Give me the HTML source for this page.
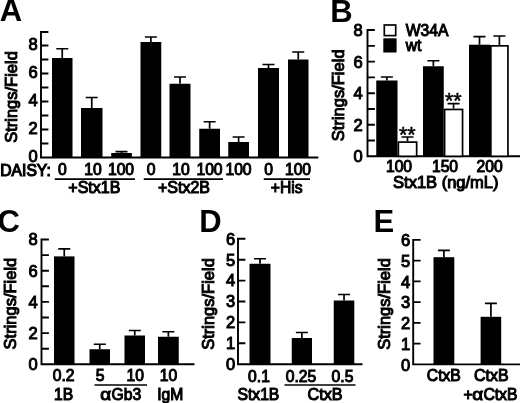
<!DOCTYPE html>
<html><head><meta charset="utf-8"><title>Figure</title>
<style>
html,body{margin:0;padding:0;background:#fff;}
svg{display:block;}
text{font-family:"Liberation Sans",sans-serif;fill:#000;}
.t{font-size:16.5px;stroke:#000;stroke-width:1.0px;}
.x{font-size:15.7px;}
.p{font-weight:bold;font-size:31px;}
.ax{stroke:#000;stroke-width:1.9;fill:none;}
.er{stroke:#000;stroke-width:1.7;fill:none;}
.b{fill:#000;}
.w{fill:#fff;stroke:#000;stroke-width:1.7;}
</style></head><body>
<svg width="520" height="403" viewBox="0 0 520 403">
<rect width="520" height="403" fill="#fff"/>
<text class="p" x="-0.3" y="21.3" text-anchor="start">A</text>
<path class="ax" d="M48.4,32 H41 V157.5 H318.3 M41,143.5 h7.4 M41,129.5 h7.4 M41,115.5 h7.4 M41,101.5 h7.4 M41,87.5 h7.4 M41,73.5 h7.4 M41,59.5 h7.4 M41,45.5 h7.4"/>
<text class="t" x="37.8" y="162.3" text-anchor="end">0</text>
<text class="t" x="37.8" y="134.3" text-anchor="end">2</text>
<text class="t" x="37.8" y="106.3" text-anchor="end">4</text>
<text class="t" x="37.8" y="78.3" text-anchor="end">6</text>
<text class="t" x="37.8" y="50.3" text-anchor="end">8</text>
<text class="t" transform="translate(16.9,97) rotate(-90)" text-anchor="middle">Strings/Field</text>
<path class="er" d="M62.25,58 V48.75 M56.25,48.75 h12"/>
<rect class="b" x="52" y="58" width="20.5" height="99.5"/>
<path class="er" d="M91.75,108 V97.5 M85.75,97.5 h12"/>
<rect class="b" x="81" y="108" width="21.5" height="49.5"/>
<path class="er" d="M121.5,153 V151.6 M115.5,151.6 h12"/>
<rect class="b" x="111.2" y="153" width="20.60000000000001" height="4.5"/>
<path class="er" d="M150.875,42 V37 M144.875,37 h12"/>
<rect class="b" x="140.5" y="42" width="20.75" height="115.5"/>
<path class="er" d="M180.0,83.75 V77 M174.0,77 h12"/>
<rect class="b" x="169.5" y="83.75" width="21.0" height="73.75"/>
<path class="er" d="M209.625,128.75 V121.75 M203.625,121.75 h12"/>
<rect class="b" x="199.25" y="128.75" width="20.75" height="28.75"/>
<path class="er" d="M238.625,142 V137 M232.625,137 h12"/>
<rect class="b" x="228.25" y="142" width="20.75" height="15.5"/>
<path class="er" d="M268.5,68 V64.5 M262.5,64.5 h12"/>
<rect class="b" x="258" y="68" width="21" height="89.5"/>
<path class="er" d="M298.25,59.5 V52 M292.25,52 h12"/>
<rect class="b" x="288" y="59.5" width="20.5" height="98.0"/>
<text class="t x" x="0.3" y="176" text-anchor="start" textLength="50.5" lengthAdjust="spacingAndGlyphs" style="font-size:16.3px;stroke-width:1.2px">DAISY:</text>
<text class="t x" x="62.3" y="175.2" text-anchor="middle">0</text>
<text class="t x" x="93" y="175.2" text-anchor="middle">10</text>
<text class="t x" x="121" y="175.2" text-anchor="middle">100</text>
<text class="t x" x="151" y="175.2" text-anchor="middle">0</text>
<text class="t x" x="181" y="175.2" text-anchor="middle">10</text>
<text class="t x" x="209.5" y="175.2" text-anchor="middle">100</text>
<text class="t x" x="238.5" y="175.2" text-anchor="middle">100</text>
<text class="t x" x="268.5" y="175.2" text-anchor="middle">0</text>
<text class="t x" x="298" y="175.2" text-anchor="middle">100</text>
<path class="ax" style="stroke-width:1.6" d="M54.8,179.1 H135 M143.75,179.1 H223 M263.75,179.1 H310"/>
<text class="t x" x="94.3" y="192.8" text-anchor="middle" textLength="52" lengthAdjust="spacingAndGlyphs">+Stx1B</text>
<text class="t x" x="184" y="192.8" text-anchor="middle" textLength="52" lengthAdjust="spacingAndGlyphs">+Stx2B</text>
<text class="t x" x="286.7" y="192.8" text-anchor="middle">+His</text>
<text class="p" x="330.3" y="21.8" text-anchor="start">B</text>
<path class="ax" d="M374.9,30 H367.5 V156.3 H520 M367.5,140.52 h7.4 M367.5,124.74000000000001 h7.4 M367.5,108.96000000000001 h7.4 M367.5,93.18 h7.4 M367.5,77.40000000000002 h7.4 M367.5,61.62000000000002 h7.4 M367.5,45.84000000000002 h7.4"/>
<text class="t" x="362.8" y="162.20000000000002" text-anchor="end">0</text>
<text class="t" x="362.8" y="130.64000000000001" text-anchor="end">2</text>
<text class="t" x="362.8" y="99.08000000000001" text-anchor="end">4</text>
<text class="t" x="362.8" y="67.52000000000002" text-anchor="end">6</text>
<text class="t" x="362.8" y="35.960000000000015" text-anchor="end">8</text>
<text class="t" transform="translate(344,95.3) rotate(-90)" text-anchor="middle">Strings/Field</text>
<path class="er" d="M386.875,80.5 V77 M380.875,77 h12"/>
<rect class="b" x="376.25" y="80.5" width="21.25" height="75.80000000000001"/>
<path class="er" d="M407.5,141.25 V137 M401.5,137 h12"/>
<rect class="w" x="398.35" y="142.1" width="18.3" height="14.200000000000012"/>
<path class="er" d="M433.375,66.25 V60.75 M427.375,60.75 h12"/>
<rect class="b" x="423" y="66.25" width="20.75" height="90.05000000000001"/>
<path class="er" d="M453.575,108.6 V103.6 M447.575,103.6 h12"/>
<rect class="w" x="444.6" y="109.44999999999999" width="17.949999999999978" height="46.850000000000016"/>
<path class="er" d="M479.5,44.7 V36.7 M473.5,36.7 h12"/>
<rect class="b" x="469" y="44.7" width="21" height="111.60000000000001"/>
<path class="er" d="M499.4,45 V36 M493.4,36 h12"/>
<rect class="w" x="490.85" y="45.85" width="17.100000000000012" height="110.45000000000002"/>
<rect class="w" x="384.3" y="25" width="11.4" height="10.6"/>
<rect class="b" x="383.3" y="38.3" width="13.3" height="14.2"/>
<text class="t x" x="405.7" y="36" text-anchor="start">W34A</text>
<text class="t x" x="405.7" y="51" text-anchor="start">wt</text>
<text class="t x" x="407.3" y="141.8" text-anchor="middle" style="font-size:21.5px;stroke-width:0.5px">**</text>
<text class="t x" x="453.3" y="107.8" text-anchor="middle" style="font-size:21.5px;stroke-width:0.5px">**</text>
<text class="t x" x="399" y="172" text-anchor="middle">100</text>
<text class="t x" x="445" y="172" text-anchor="middle">150</text>
<text class="t x" x="489.6" y="172" text-anchor="middle">200</text>
<text class="t x" x="445.8" y="187.5" text-anchor="middle" textLength="105.5" lengthAdjust="spacingAndGlyphs">Stx1B (ng/mL)</text>
<text class="p" x="-2.6" y="231.7" text-anchor="start">C</text>
<path class="ax" d="M48.9,239.5 H41.5 V364.3 H194.5 M41.5,348.7 h7.4 M41.5,333.1 h7.4 M41.5,317.5 h7.4 M41.5,301.90000000000003 h7.4 M41.5,286.3 h7.4 M41.5,270.70000000000005 h7.4 M41.5,255.10000000000002 h7.4"/>
<text class="t" x="37.8" y="370.2" text-anchor="end">0</text>
<text class="t" x="37.8" y="339.0" text-anchor="end">2</text>
<text class="t" x="37.8" y="307.8" text-anchor="end">4</text>
<text class="t" x="37.8" y="276.6" text-anchor="end">6</text>
<text class="t" x="37.8" y="245.4" text-anchor="end">8</text>
<text class="t" transform="translate(15.8,303.6) rotate(-90)" text-anchor="middle">Strings/Field</text>
<path class="er" d="M64.25,256.4 V248.8 M58.25,248.8 h12"/>
<rect class="b" x="54" y="256.4" width="20.5" height="107.90000000000003"/>
<path class="er" d="M99.75,349.25 V344.25 M93.75,344.25 h12"/>
<rect class="b" x="89.5" y="349.25" width="20.5" height="15.050000000000011"/>
<path class="er" d="M134.75,335.5 V330.5 M128.75,330.5 h12"/>
<rect class="b" x="124.5" y="335.5" width="20.5" height="28.80000000000001"/>
<path class="er" d="M168.375,336.75 V331.75 M162.375,331.75 h12"/>
<rect class="b" x="158" y="336.75" width="20.75" height="27.55000000000001"/>
<text class="t x" x="63.7" y="381.4" text-anchor="middle">0.2</text>
<text class="t x" x="100" y="381.4" text-anchor="middle">5</text>
<text class="t x" x="135.3" y="381.4" text-anchor="middle">10</text>
<text class="t x" x="168.6" y="381.4" text-anchor="middle">10</text>
<path class="ax" style="stroke-width:1.6" d="M94.5,385 H147"/>
<text class="t x" x="63.7" y="399.7" text-anchor="middle">1B</text>
<text class="t x" transform="translate(100.3,399.7) scale(1.2,1)">α</text>
<text class="t x" x="111.6" y="399.7" text-anchor="start">Gb3</text>
<text class="t x" x="170.3" y="399.7" text-anchor="middle">IgM</text>
<text class="p" x="199.3" y="231.7" text-anchor="start">D</text>
<path class="ax" d="M245.4,238.8 H238 V364.2 H362.5 M238,343.3 h7.4 M238,322.4 h7.4 M238,301.5 h7.4 M238,280.6 h7.4 M238,259.7 h7.4"/>
<text class="t" x="235.2" y="370.0" text-anchor="end">0</text>
<text class="t" x="235.2" y="349.1" text-anchor="end">1</text>
<text class="t" x="235.2" y="328.2" text-anchor="end">2</text>
<text class="t" x="235.2" y="307.3" text-anchor="end">3</text>
<text class="t" x="235.2" y="286.40000000000003" text-anchor="end">4</text>
<text class="t" x="235.2" y="265.5" text-anchor="end">5</text>
<text class="t" x="235.2" y="244.60000000000002" text-anchor="end">6</text>
<text class="t" transform="translate(214,304) rotate(-90)" text-anchor="middle">Strings/Field</text>
<path class="er" d="M260.0,263.75 V258.75 M254.0,258.75 h12"/>
<rect class="b" x="249.5" y="263.75" width="21.0" height="100.44999999999999"/>
<path class="er" d="M301.875,338 V332.5 M295.875,332.5 h12"/>
<rect class="b" x="291.75" y="338" width="20.25" height="26.19999999999999"/>
<path class="er" d="M344.025,300.5 V294.5 M338.025,294.5 h12"/>
<rect class="b" x="333.75" y="300.5" width="20.55000000000001" height="63.69999999999999"/>
<text class="t x" x="259" y="381.6" text-anchor="middle">0.1</text>
<text class="t x" x="301" y="381.6" text-anchor="middle">0.25</text>
<text class="t x" x="342.5" y="381.6" text-anchor="middle">0.5</text>
<path class="ax" style="stroke-width:1.6" d="M284.5,385 H355.5"/>
<text class="t x" x="258.4" y="399.7" text-anchor="middle">Stx1B</text>
<text class="t x" x="325" y="399.7" text-anchor="middle" textLength="35" lengthAdjust="spacingAndGlyphs">CtxB</text>
<text class="p" x="373.5" y="231.7" text-anchor="start">E</text>
<path class="ax" d="M420.59999999999997,239.9 H413.2 V364.4 H520 M413.2,343.65 h7.4 M413.2,322.9 h7.4 M413.2,302.15 h7.4 M413.2,281.4 h7.4 M413.2,260.65 h7.4"/>
<text class="t" x="410.2" y="370.7" text-anchor="end">0</text>
<text class="t" x="410.2" y="349.95" text-anchor="end">1</text>
<text class="t" x="410.2" y="329.2" text-anchor="end">2</text>
<text class="t" x="410.2" y="308.45" text-anchor="end">3</text>
<text class="t" x="410.2" y="287.7" text-anchor="end">4</text>
<text class="t" x="410.2" y="266.95" text-anchor="end">5</text>
<text class="t" x="410.2" y="246.2" text-anchor="end">6</text>
<text class="t" transform="translate(390.3,304) rotate(-90)" text-anchor="middle">Strings/Field</text>
<path class="er" d="M443.9,257.2 V250.3 M437.9,250.3 h12"/>
<rect class="b" x="433.5" y="257.2" width="20.80000000000001" height="107.19999999999999"/>
<path class="er" d="M490.9,316.8 V303.3 M484.9,303.3 h12"/>
<rect class="b" x="480.6" y="316.8" width="20.599999999999966" height="47.599999999999966"/>
<text class="t x" x="443.8" y="380.6" text-anchor="middle" textLength="34" lengthAdjust="spacingAndGlyphs">CtxB</text>
<text class="t x" x="491.3" y="380.6" text-anchor="middle" textLength="34.5" lengthAdjust="spacingAndGlyphs">CtxB</text>
<text class="t x" x="463.5" y="400.1" text-anchor="start">+</text>
<text class="t x" transform="translate(472.2,400.1) scale(1.2,1)">α</text>
<text class="t x" x="483.4" y="400.1" text-anchor="start">CtxB</text>
</svg></body></html>
